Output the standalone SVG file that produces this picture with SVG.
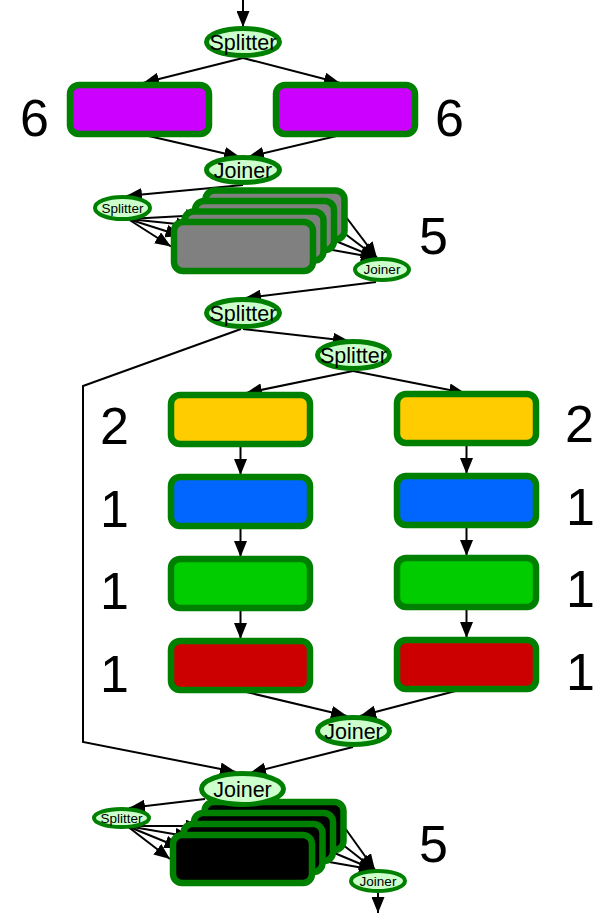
<svg xmlns="http://www.w3.org/2000/svg" width="595" height="913" viewBox="0 0 595 913">
<style>
.e{stroke:#008000;stroke-width:5;fill:#CCFFCC}
.es{stroke:#008000;stroke-width:4;fill:#CCFFCC}
.r{stroke:#008000;stroke-width:6.5}
.c{stroke:#000;stroke-width:2;fill:none;marker-end:url(#a)}
.t{font-family:"Liberation Sans",Arial,Helvetica,sans-serif;font-size:21.5px;text-anchor:middle;fill:#000}
.ts{font-family:"Liberation Sans",Arial,Helvetica,sans-serif;font-size:13.5px;text-anchor:middle;fill:#000}
.n{font-family:"Liberation Sans",Arial,Helvetica,sans-serif;font-size:52px;fill:#000}
.purple{fill:#CC00FF}.gray{fill:#808080}.yellow{fill:#FFCC00}.blue{fill:#0066FF}.green{fill:#00CC00}.red{fill:#CC0000}.black{fill:#000}
</style>
<defs>
<marker id="a" markerUnits="userSpaceOnUse" markerWidth="16" markerHeight="13" refX="16" refY="6.5" orient="auto">
<path d="M0,0 L16,6.5 L0,13 z" fill="#000"/>
</marker>
</defs>
<g id="connectors">
<line class="c" x1="243" y1="0" x2="243" y2="27"/>
<line class="c" x1="243" y1="58" x2="143" y2="83"/>
<line class="c" x1="243" y1="58" x2="340" y2="83"/>
<line class="c" x1="140" y1="134" x2="240" y2="157"/>
<line class="c" x1="345" y1="134" x2="248" y2="157"/>
<line class="c" x1="243" y1="185" x2="126" y2="196"/>
<line class="c" x1="128" y1="219" x2="171" y2="246.5"/>
<line class="c" x1="128" y1="219" x2="181.5" y2="236"/>
<line class="c" x1="128" y1="219" x2="192" y2="225.5"/>
<line class="c" x1="128" y1="219" x2="202.5" y2="215"/>
<line class="c" x1="313" y1="246.5" x2="377" y2="258"/>
<line class="c" x1="323.5" y1="236" x2="377" y2="258"/>
<line class="c" x1="334" y1="225.5" x2="377" y2="258"/>
<line class="c" x1="344.5" y1="215" x2="377" y2="258"/>
<line class="c" x1="376" y1="282" x2="245" y2="298"/>
<polyline class="c" points="241,329 83,386 83,742 236,772"/>
<line class="c" x1="243" y1="329" x2="349" y2="341"/>
<line class="c" x1="353" y1="371" x2="246" y2="393"/>
<line class="c" x1="353" y1="371" x2="465" y2="393"/>
<line class="c" x1="240.5" y1="447" x2="240.5" y2="475"/>
<line class="c" x1="240.5" y1="529" x2="240.5" y2="557"/>
<line class="c" x1="240.5" y1="611" x2="240.5" y2="639"/>
<line class="c" x1="466.5" y1="446" x2="466.5" y2="474"/>
<line class="c" x1="466.5" y1="528" x2="466.5" y2="556"/>
<line class="c" x1="466.5" y1="610" x2="466.5" y2="638"/>
<line class="c" x1="242" y1="691" x2="347" y2="716"/>
<line class="c" x1="467" y1="688" x2="360" y2="716"/>
<line class="c" x1="353" y1="747" x2="250" y2="773"/>
<line class="c" x1="205" y1="799" x2="129" y2="808"/>
<line class="c" x1="127" y1="826" x2="170" y2="859"/>
<line class="c" x1="127" y1="826" x2="180.5" y2="848"/>
<line class="c" x1="127" y1="826" x2="191" y2="837"/>
<line class="c" x1="127" y1="826" x2="201.5" y2="826"/>
<line class="c" x1="312" y1="859" x2="375" y2="870"/>
<line class="c" x1="322.5" y1="848" x2="375" y2="870"/>
<line class="c" x1="333" y1="837" x2="375" y2="870"/>
<line class="c" x1="343.5" y1="826" x2="375" y2="870"/>
<line class="c" x1="378" y1="892" x2="378" y2="913"/>
</g>
<g id="splitter1"><ellipse class="e" cx="243" cy="42" rx="36.5" ry="13.5"/><text class="t" x="243" y="49.5">Splitter</text></g>
<g id="filter6a"><rect class="r purple" x="70" y="85" width="139" height="49" rx="9"/><text class="n" x="20" y="136">6</text></g>
<g id="filter6b"><rect class="r purple" x="276" y="85" width="139" height="49" rx="9"/><text class="n" x="435" y="136">6</text></g>
<g id="joiner1"><ellipse class="e" cx="243" cy="170" rx="36.5" ry="12.5"/><text class="t" x="243" y="177.5">Joiner</text></g>
<g id="splitter2"><ellipse class="es" cx="122.5" cy="208" rx="27.5" ry="11"/><text class="ts" x="122.5" y="212.5">Splitter</text></g>
<g id="grayStack">
<rect class="r gray" x="205.5" y="190.5" width="139" height="49" rx="9"/>
<rect class="r gray" x="195" y="201" width="139" height="49" rx="9"/>
<rect class="r gray" x="184.5" y="211.5" width="139" height="49" rx="9"/>
<rect class="r gray" x="174" y="222" width="139" height="49" rx="9"/>
<text class="n" x="419" y="254">5</text>
</g>
<g id="joiner2"><ellipse class="es" cx="382" cy="269.5" rx="27" ry="10.5"/><text class="ts" x="382" y="274">Joiner</text></g>
<g id="splitter3"><ellipse class="e" cx="243" cy="313" rx="36.5" ry="13.5"/><text class="t" x="243" y="320.5">Splitter</text></g>
<g id="splitter4"><ellipse class="e" cx="353.5" cy="355" rx="36" ry="13.5"/><text class="t" x="353.5" y="362.5">Splitter</text></g>
<g id="yellowL"><rect class="r yellow" x="171" y="395" width="139" height="49" rx="9"/><text class="n" x="100" y="444">2</text></g>
<g id="blueL"><rect class="r blue" x="171" y="477" width="139" height="49" rx="9"/><text class="n" x="100" y="527">1</text></g>
<g id="greenL"><rect class="r green" x="171" y="559" width="139" height="49" rx="9"/><text class="n" x="100" y="609">1</text></g>
<g id="redL"><rect class="r red" x="171" y="641" width="139" height="49" rx="9"/><text class="n" x="100" y="692">1</text></g>
<g id="yellowR"><rect class="r yellow" x="397" y="394" width="139" height="49" rx="9"/><text class="n" x="565" y="442">2</text></g>
<g id="blueR"><rect class="r blue" x="397" y="476" width="139" height="49" rx="9"/><text class="n" x="566" y="525">1</text></g>
<g id="greenR"><rect class="r green" x="397" y="558" width="139" height="49" rx="9"/><text class="n" x="566" y="607">1</text></g>
<g id="redR"><rect class="r red" x="397" y="640" width="139" height="49" rx="9"/><text class="n" x="566" y="690">1</text></g>
<g id="joiner3"><ellipse class="e" cx="353.5" cy="731" rx="36" ry="13.5"/><text class="t" x="353.5" y="738.5">Joiner</text></g>
<g id="blackStack">
<rect class="r black" x="204.5" y="802" width="139" height="48" rx="9"/>
<rect class="r black" x="194" y="813" width="139" height="48" rx="9"/>
<rect class="r black" x="183.5" y="824" width="139" height="48" rx="9"/>
<rect class="r black" x="173" y="835" width="139" height="48" rx="9"/>
<text class="n" x="419" y="862">5</text>
</g>
<g id="joiner4"><ellipse class="e" cx="242.5" cy="789" rx="41" ry="15.5"/><text class="t" x="242.5" y="797">Joiner</text></g>
<g id="splitter5"><ellipse class="es" cx="121.5" cy="818" rx="27.5" ry="9"/><text class="ts" x="121.5" y="822.5">Splitter</text></g>
<g id="joiner5"><ellipse class="es" cx="378" cy="881" rx="27" ry="10"/><text class="ts" x="378" y="885.5">Joiner</text></g>
</svg>
